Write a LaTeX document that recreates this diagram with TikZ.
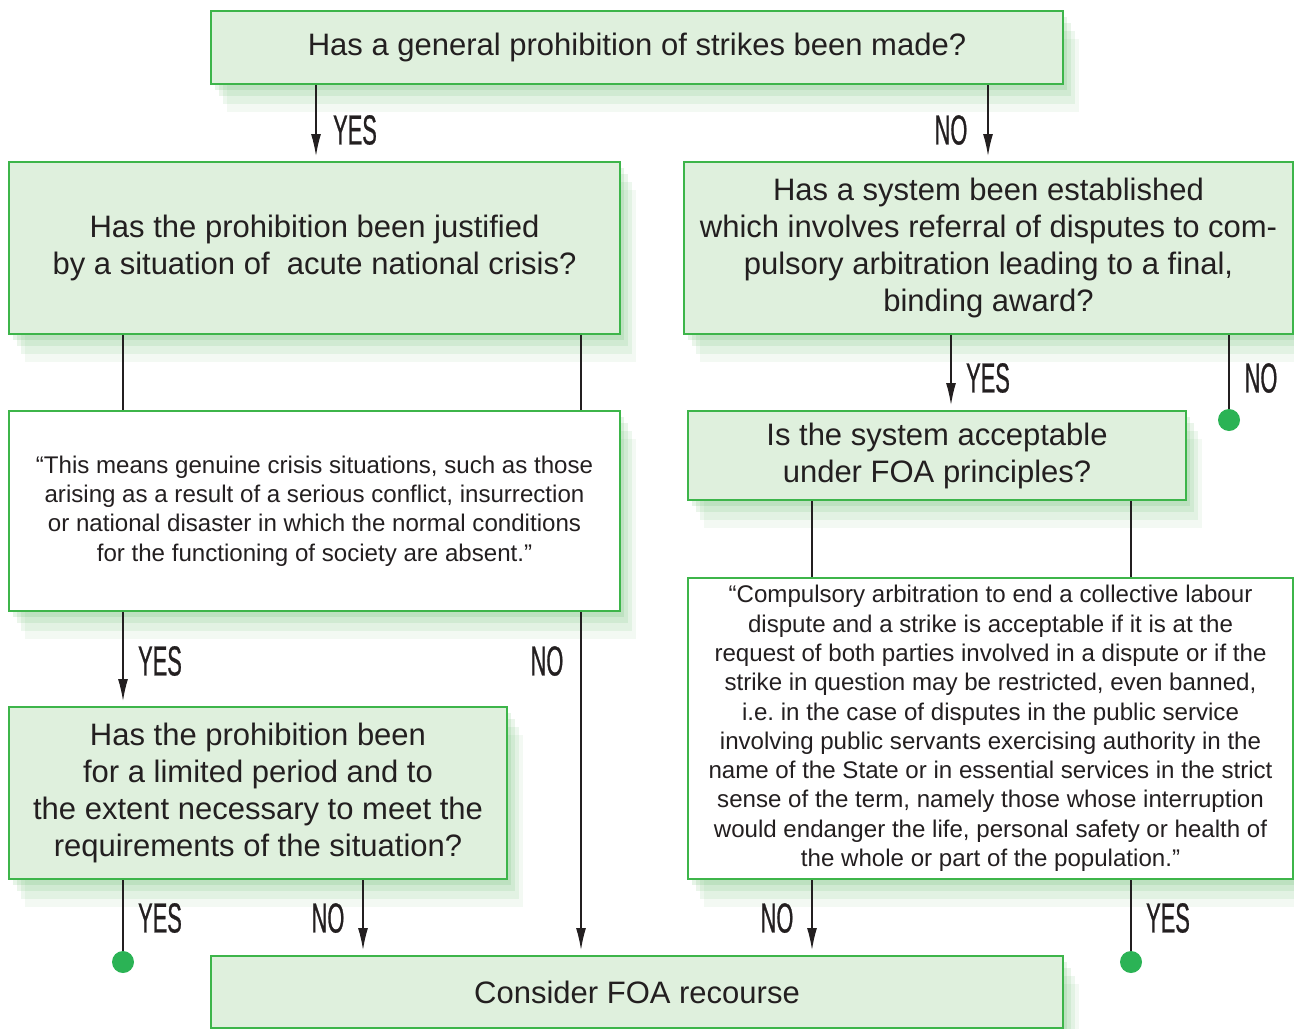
\documentclass[tikz,border=0pt]{standalone}
\usepackage{fontspec}
\usepackage{tikz}
\usetikzlibrary{arrows.meta,shadows}
\setmainfont{Liberation Sans}
\newfontfamily\labelfont[FakeStretch=0.52,FakeBold=0.6]{Liberation Sans}
\definecolor{boxgreen}{HTML}{3DB54A}
\definecolor{boxfill}{HTML}{DFF0DD}
\definecolor{dotgreen}{HTML}{2BB355}
\definecolor{shadegreen}{HTML}{4FAF55}
\definecolor{ink}{HTML}{231F20}
\newcommand{\qfont}{\fontsize{15.5}{18.5}\selectfont}
\newcommand{\cfont}{\fontsize{12.05}{14.65}\selectfont}
\tikzstyle{glow}=[general shadow={fill=shadegreen,opacity=0.14,shadow xshift=2pt,shadow yshift=-3pt},
  general shadow={fill=shadegreen,opacity=0.12,shadow xshift=4pt,shadow yshift=-6pt},
  general shadow={fill=shadegreen,opacity=0.10,shadow xshift=6pt,shadow yshift=-10pt},
  general shadow={fill=shadegreen,opacity=0.07,shadow xshift=8pt,shadow yshift=-14pt}]
\tikzstyle{question}=[glow,draw=boxgreen,fill=boxfill,line width=1pt,text=ink,align=center,font=\qfont,inner sep=0pt]
\tikzstyle{quotebox}=[question,fill=white,font=\cfont]
\tikzstyle{answer}=[font=\labelfont\fontsize{21}{21}\selectfont,text=ink,inner sep=0pt]
\tikzstyle{arrow}=[-{Latex[length=11pt,width=5pt]},line width=0.7pt,draw=ink,shorten >=2.5pt]
\tikzstyle{link}=[line width=0.7pt,draw=ink]
\tikzstyle{stop}=[circle,fill=dotgreen,minimum size=11pt,inner sep=0pt]

\begin{document}
\frenchspacing
\begin{tikzpicture}[x=0.5pt,y=-0.5pt]
    \useasboundingbox (0,0) rectangle (1294,1028);
    % boxes
    \node[question,minimum width=426pt,minimum height=36.5pt] (general) at (637,47.5)
        {Has a general prohibition of strikes been made?};
    \node[question,minimum width=305.5pt,minimum height=86pt] (crisis) at (314.5,248)
        {Has the prohibition been justified\\by a situation of~ acute national crisis?};
    \node[question,minimum width=304.5pt,minimum height=86pt] (arbitration) at (988.5,248)
        {Has a system been established\\which involves referral of disputes to com-\\pulsory arbitration leading to a final,\\binding award?};
    \node[quotebox,minimum width=305.5pt,minimum height=100pt] (crisisquote) at (314.5,511)
        {“This means genuine crisis situations, such as those\\arising as a result of a serious conflict, insurrection\\or national disaster in which the normal conditions\\for the functioning of society are absent.”};
    \node[question,minimum width=249pt,minimum height=44.5pt] (acceptable) at (937,455.5)
        {Is the system acceptable\\under FOA principles?};
    \node[quotebox,minimum width=302.5pt,minimum height=150.5pt] (arbquote) at (990.5,728.5)
        {“Compulsory arbitration to end a collective labour\\dispute and a strike is acceptable if it is at the\\request of both parties involved in a dispute or if the\\strike in question may be restricted, even banned,\\i.e. in the case of disputes in the public service\\involving public servants exercising authority in the\\name of the State or in essential services in the strict\\sense of the term, namely those whose interruption\\would endanger the life, personal safety or health of\\the whole or part of the population.”};
    \node[question,minimum width=249pt,minimum height=86pt] (limited) at (258,793)
        {Has the prohibition been\\for a limited period and to\\the extent necessary to meet the\\requirements of the situation?};
    \node[question,minimum width=426pt,minimum height=36pt] (recourse) at (637,992)
        {Consider FOA recourse};
    % end points
    \node[stop] (stopA) at (123,962) {};
    \node[stop] (stopI) at (1229,420) {};
    \node[stop] (stopH) at (1131,962) {};
    % columns
    \coordinate (colA) at (123,0);
    \coordinate (colB) at (316,0);
    \coordinate (colC) at (363,0);
    \coordinate (colD) at (581,0);
    \coordinate (colE) at (812,0);
    \coordinate (colF) at (951,0);
    \coordinate (colG) at (988,0);
    % connectors
    \draw[arrow] (colB |- general.south) -- (colB |- crisis.north);
    \draw[arrow] (colG |- general.south) -- (colG |- arbitration.north);
    \draw[link] (colA |- crisis.south) -- (colA |- crisisquote.north);
    \draw[link] (colD |- crisis.south) -- (colD |- crisisquote.north);
    \draw[arrow] (colA |- crisisquote.south) -- (colA |- limited.north);
    \draw[arrow] (colD |- crisisquote.south) -- (colD |- recourse.north);
    \draw[arrow] (colF |- arbitration.south) -- (colF |- acceptable.north);
    \draw[link] (stopI |- arbitration.south) -- (stopI);
    \draw[link] (colE |- acceptable.south) -- (colE |- arbquote.north);
    \draw[link] (stopH |- acceptable.south) -- (stopH |- arbquote.north);
    \draw[arrow] (colE |- arbquote.south) -- (colE |- recourse.north);
    \draw[link] (stopH |- arbquote.south) -- (stopH);
    \draw[link] (stopA |- limited.south) -- (stopA);
    \draw[arrow] (colC |- limited.south) -- (colC |- recourse.north);
    % answers
    \node[answer] (yes1) at (355,130) {YES};
    \node[answer] (no1) at (951,130) {NO};
    \node[answer] (yes2) at (988,378) {YES};
    \node[answer] (no2) at (1261,378) {NO};
    \node[answer] (yes3) at (160,661) {YES};
    \node[answer] (no3) at (547,661) {NO};
    \node[answer] (yes4) at (160,918) {YES};
    \node[answer] (no4) at (328,918) {NO};
    \node[answer] (no5) at (777,918) {NO};
    \node[answer] (yes5) at (1168,918) {YES};
\end{tikzpicture}
\end{document}
